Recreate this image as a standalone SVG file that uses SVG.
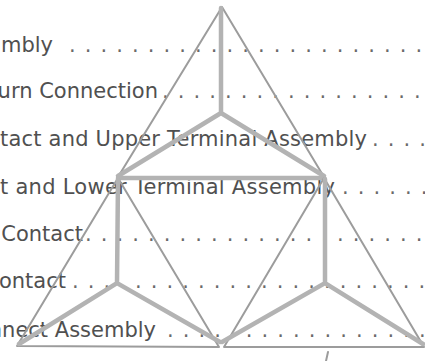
<svg xmlns="http://www.w3.org/2000/svg" width="425" height="361" viewBox="0 0 425 361">
  <style>
    .lbl { font-family: "DejaVu Sans", "Liberation Sans", sans-serif; font-size: 21px; fill: #505050; }
    .dots { font-family: "DejaVu Sans", "Liberation Sans", sans-serif; font-size: 21px; fill: #6a6a6a; letter-spacing: 1.2px; }
    .thin { fill: none; stroke: #9c9c9c; stroke-width: 2; stroke-linejoin: round; stroke-linecap: round; }
    .thick { fill: none; stroke: #b3b3b3; stroke-width: 4.5; stroke-linecap: round; }
  </style>
  <rect width="425" height="361" fill="#ffffff"/>

  <g id="toc-text">
    <text class="lbl" x="53" y="52" text-anchor="end">mbly</text>
    <text class="dots" x="69" y="52">. . . . . . . . . . . . . . . . . . . . . . . .</text>

    <text class="lbl" x="158" y="98" text-anchor="end">urn Connection</text>
    <text class="dots" x="162" y="98">. . . . . . . . . . . . . . . . .</text>

    <text class="lbl" x="0" y="146" textLength="367" lengthAdjust="spacing">tact and Upper Terminal Assembly</text>
    <text class="dots" x="372" y="146">. . . .</text>

    <text class="lbl" x="0" y="194" textLength="335" lengthAdjust="spacing">t and Lower Terminal Assembly</text>
    <text class="dots" x="342" y="194">. . . . . .</text>

    <text class="lbl" x="83" y="241" text-anchor="end">Contact</text>
    <text class="dots" x="85" y="241">. . . . . . . . . . . . . . . . . . . . . .</text>

    <text class="lbl" x="66" y="288" text-anchor="end">ontact</text>
    <text class="dots" x="72" y="288">. . . . . . . . . . . . . . . . . . . . . . .</text>

    <text class="lbl" x="156" y="337" text-anchor="end">nnect Assembly</text>
    <text class="dots" x="167" y="337">. . . . . . . . . . . . . . . . .</text>
  </g>

  <g id="triangle-top">
    <polygon class="thin" points="222,7 118,177 324,177"/>
    <line class="thick" x1="118" y1="178" x2="324" y2="178"/>
    <path class="thick" d="M221,8 L221,113 M118,176 L221,113 L324,176"/>
  </g>

  <g id="triangle-left">
    <polyline class="thin" points="118,178 17,346 219,347 118,178"/>
    <path class="thick" d="M118,179 L117,283 M19,344 L117,283 L220,342"/>
  </g>

  <g id="triangle-right">
    <polyline class="thin" points="324,178 224,347 424,347 324,178"/>
    <path class="thick" d="M325,179 L325,283 M222,342 L325,283 L423,344"/>
  </g>

  <g id="tick">
    <line class="thin" x1="328" y1="352" x2="326" y2="361"/>
  </g>
</svg>
